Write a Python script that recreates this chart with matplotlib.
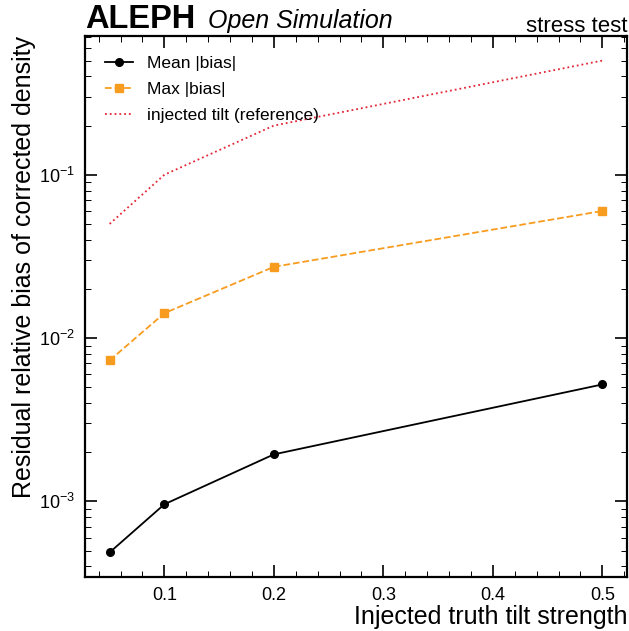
import matplotlib
matplotlib.use("Agg")
import matplotlib.pyplot as plt
from matplotlib.ticker import MultipleLocator, LogLocator, NullFormatter

plt.rcParams['font.family'] = ['Liberation Sans', 'DejaVu Sans']
plt.rcParams['mathtext.fontset'] = 'custom'
plt.rcParams['mathtext.rm'] = 'Liberation Sans'
plt.rcParams['mathtext.it'] = 'Liberation Sans:italic'
plt.rcParams['mathtext.bf'] = 'Liberation Sans:bold'

tilt = [0.05, 0.1, 0.2, 0.5]
mean_bias = [4.87e-4, 9.6e-4, 1.94e-3, 5.2e-3]
max_bias = [7.3e-3, 1.42e-2, 2.73e-2, 6.0e-2]
reference = [0.05, 0.1, 0.2, 0.5]

fig = plt.figure(figsize=(6.29, 6.31), dpi=100)
ax = fig.add_axes([85/629, 54/631, 542/629, 541/631])

ax.plot(tilt, mean_bias, '-o', color='black', lw=1.3, ms=5.5, label='Mean |bias|')
ax.plot(tilt, max_bias, '--s', color='#f89c20', lw=1.3, ms=5.5, label='Max |bias|')
ax.plot(tilt, reference, ':', color='#e42536', lw=1.3, label='injected tilt (reference)')

ax.set_yscale('log')
ax.xaxis.set_major_locator(MultipleLocator(0.1))
ax.xaxis.set_minor_locator(MultipleLocator(0.02))
ax.yaxis.set_major_locator(LogLocator(base=10))
ax.yaxis.set_minor_locator(LogLocator(base=10, subs=range(2, 10)))
ax.yaxis.set_minor_formatter(NullFormatter())

for s in ax.spines.values():
    s.set_linewidth(1.6)
ax.tick_params(which='both', direction='in', top=True, right=True, labelsize=13)
ax.tick_params(which='major', length=8.6, width=1.2, pad=7)
ax.tick_params(which='minor', length=4.3, width=0.7)

ax.set_xlabel('Injected truth tilt strength', fontsize=18, loc='right', va='baseline')
ax.xaxis.set_label_coords(1.0, -(624 - 577) / 541)
ax.set_ylabel('Residual relative bias of corrected density', fontsize=18, loc='top')
ax.yaxis.set_label_coords(-(85 - 36) / 542, 1.0)

ax.legend(loc='upper left', frameon=False, fontsize=12.5, handlelength=1.6,
          borderaxespad=0.75, labelspacing=0.62)

yb = 1 + (36 - 28) / 541
ax.text(0.0, yb, 'ALEPH', transform=ax.transAxes, fontsize=23.5,
        fontweight='bold', ha='left', va='baseline')
ax.text((208 - 85) / 542, yb, 'Open Simulation', transform=ax.transAxes, fontsize=18,
        style='italic', ha='left', va='baseline')
ax.text(1.0, 1 + (36 - 32) / 541, 'stress test', transform=ax.transAxes, fontsize=16,
        ha='right', va='baseline')

fig.savefig('out.png', dpi=100)
